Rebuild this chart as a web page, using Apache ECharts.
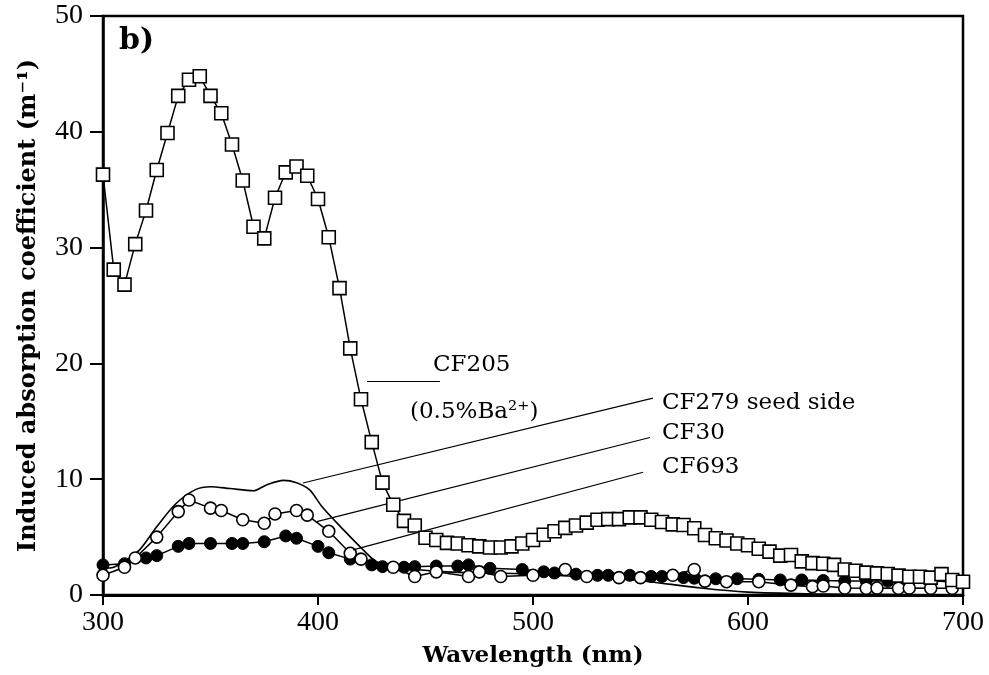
<!DOCTYPE html>
<html>
<head>
<meta charset="utf-8">
<script src="https://cdn.jsdelivr.net/npm/echarts@6/dist/echarts.min.js"></script>
<style>
html,body{margin:0;padding:0;background:#fff;}
#chart{width:989px;height:675px;}
</style>
</head>
<body>
<div id="chart"></div>
<script>
// ---- data ----
const xTicks = [300, 400, 500, 600, 700];
const yTicks = [0, 10, 20, 30, 40, 50];

// CF205 (0.5% Ba2+) - open squares
const cf205X = [300,305,310,315,320,325,330,335,340,345,350,355,360,365,370,375,380,385,390,395,
  400,405,410,415,420,425,430,435,440,445,450,455,460,465,470,475,480,485,490,495,
  500,505,510,515,520,525,530,535,540,545,550,555,560,565,570,575,580,585,590,595,
  600,605,610,615,620,625,630,635,640,645,650,655,660,665,670,675,680,685,690,695,700];
const cf205Y = [36.3,28.1,26.8,30.3,33.2,36.7,39.9,43.1,44.5,44.8,43.1,41.6,38.9,35.8,31.8,30.8,34.3,36.5,37.0,36.2,
  34.2,30.9,26.5,21.3,16.9,13.2,9.7,7.8,6.4,6.0,4.95,4.75,4.5,4.45,4.3,4.2,4.1,4.1,4.2,4.45,
  4.75,5.2,5.5,5.8,6.0,6.25,6.5,6.55,6.55,6.7,6.7,6.5,6.3,6.1,6.05,5.76,5.18,4.9,4.7,4.45,
  4.3,4.0,3.75,3.4,3.45,2.9,2.75,2.7,2.6,2.2,2.1,1.93,1.87,1.81,1.67,1.58,1.58,1.5,1.8,1.3,1.15];

// CF279 seed side - plain line
const cf279X = [300,305,310,317,325,334,343,350,359,370,376,384,390,396,402,412,421,427,435,445,460,480,500,520,547,578,600,630,660,700];
const cf279Y = [2.3,2.4,2.9,3.9,5.9,7.9,9.1,9.35,9.2,9.0,9.5,9.9,9.7,9.1,7.6,5.6,3.9,2.9,2.4,2.2,2.0,1.9,1.8,1.6,1.3,0.6,0.25,0.1,0.05,0.0];

// CF30 - open circles
const cf30X = [300,310,315,325,335,340,350,355,365,375,380,390,395,405,415,420,435,445,455,470,475,485,500,515,525,540,550,565,575,580,590,605,620,630,635,645,655,660,670,675,685,695];
const cf30Y = [1.7,2.4,3.2,5.0,7.2,8.2,7.5,7.3,6.5,6.2,7.0,7.3,6.9,5.5,3.6,3.1,2.4,1.6,2.0,1.6,2.0,1.6,1.7,2.2,1.6,1.5,1.5,1.7,2.2,1.2,1.15,1.15,0.85,0.72,0.78,0.6,0.58,0.6,0.58,0.6,0.58,0.58];

// CF693 - filled circles
const cf693X = [300,310,320,325,335,340,350,360,365,375,385,390,400,405,415,425,430,440,445,455,465,470,480,495,505,510,520,530,535,545,555,560,570,575,585,595,605,615,625,635,645,655,665,675,685,695,700];
const cf693Y = [2.6,2.7,3.2,3.4,4.2,4.45,4.45,4.45,4.45,4.6,5.1,4.9,4.2,3.65,3.1,2.6,2.45,2.4,2.45,2.5,2.5,2.6,2.3,2.2,2.0,1.9,1.8,1.7,1.7,1.7,1.6,1.6,1.5,1.45,1.4,1.4,1.35,1.3,1.3,1.25,1.2,1.2,1.2,1.2,1.2,1.15,1.15];

// leader lines for annotations (data coordinates)
const leaderCF205 = [[422.8, 18.5], [456.7, 18.5]];
const leaderCF279 = [[393, 9.67], [555.8, 17.0]];
const leaderCF30  = [[399.4, 6.33], [554.4, 13.6]];
const leaderCF693 = [[416.3, 3.9], [551.2, 10.6]];

const zip = (xs, ys) => xs.map((x, i) => [x, ys[i]]);
const leader = (pts) => ({
  silent: true, symbol: ['none', 'none'], animation: false,
  lineStyle: { color: '#000', width: 1.2, type: 'solid' },
  label: { show: false }, emphasis: { disabled: true },
  data: [[{ coord: pts[0] }, { coord: pts[1] }]]
});

const chart = echarts.init(document.getElementById('chart'));
const tickFont = 'Liberation Serif';
const textFont = 'DejaVu Serif';

chart.setOption({
  animation: false,
  backgroundColor: '#fff',
  grid: { left: 103, right: 26, top: 16, bottom: 80, show: true, borderColor: '#000', borderWidth: 2.5 },
  xAxis: {
    type: 'value', min: xTicks[0], max: xTicks[xTicks.length - 1], interval: 100,
    axisLine: { lineStyle: { color: '#000', width: 3 } },
    axisTick: { inside: false, length: 10, lineStyle: { color: '#000', width: 2 } },
    axisLabel: { color: '#000', fontFamily: tickFont, fontSize: 28, margin: 14 },
    splitLine: { show: false },
    name: 'Wavelength (nm)', nameLocation: 'middle', nameGap: 50,
    nameTextStyle: { color: '#000', fontFamily: textFont, fontWeight: 'bold', fontSize: 23 }
  },
  yAxis: {
    type: 'value', min: yTicks[0], max: yTicks[yTicks.length - 1], interval: 10,
    axisLine: { show: true, lineStyle: { color: '#000', width: 2.5 } },
    axisTick: { show: true, inside: false, length: 13, lineStyle: { color: '#000', width: 2 } },
    axisLabel: { color: '#000', fontFamily: tickFont, fontSize: 28, margin: 20 },
    splitLine: { show: false },
    name: 'Induced absorption coefficient (m⁻¹)', nameLocation: 'middle', nameGap: 62,
    nameTextStyle: { color: '#000', fontFamily: textFont, fontWeight: 'bold', fontSize: 24 }
  },
  series: [
    {
      name: 'CF279 seed side', type: 'line', data: zip(cf279X, cf279Y), showSymbol: false,
      smooth: 0.3, z: 2, lineStyle: { color: '#000', width: 1.6 },
      markLine: leader(leaderCF279)
    },
    {
      name: 'CF693', type: 'line', data: zip(cf693X, cf693Y), symbol: 'circle', symbolSize: 12, z: 3,
      lineStyle: { color: '#000', width: 1.5 },
      itemStyle: { color: '#000', borderColor: '#000', borderWidth: 1 },
      markLine: leader(leaderCF693)
    },
    {
      name: 'CF30', type: 'line', data: zip(cf30X, cf30Y), symbol: 'circle', symbolSize: 12, z: 4,
      lineStyle: { color: '#000', width: 1.5 },
      itemStyle: { color: '#fff', borderColor: '#000', borderWidth: 1.6 },
      markLine: leader(leaderCF30)
    },
    {
      name: 'CF205', type: 'line', data: zip(cf205X, cf205Y), symbol: 'rect', symbolSize: 13, z: 5,
      lineStyle: { color: '#000', width: 1.5 },
      itemStyle: { color: '#fff', borderColor: '#000', borderWidth: 1.6 },
      markLine: leader(leaderCF205)
    }
  ],
  graphic: [
    { type: 'text', left: 119, top: 26, style: { text: 'b)', font: 'bold 30px "DejaVu Serif"', fill: '#000' } },
    { type: 'text', x: 433, y: 365, style: { text: 'CF205', font: '23px "DejaVu Serif"', fill: '#000', verticalAlign: 'middle' } },
    { type: 'text', x: 410, y: 412, style: { text: '(0.5%Ba²⁺)', font: '23px "DejaVu Serif"', fill: '#000', verticalAlign: 'middle' } },
    { type: 'text', x: 662, y: 403, style: { text: 'CF279 seed side', font: '23px "DejaVu Serif"', fill: '#000', verticalAlign: 'middle' } },
    { type: 'text', x: 662, y: 433, style: { text: 'CF30', font: '23px "DejaVu Serif"', fill: '#000', verticalAlign: 'middle' } },
    { type: 'text', x: 662, y: 467, style: { text: 'CF693', font: '23px "DejaVu Serif"', fill: '#000', verticalAlign: 'middle' } }
  ]
});
</script>
</body>
</html>
